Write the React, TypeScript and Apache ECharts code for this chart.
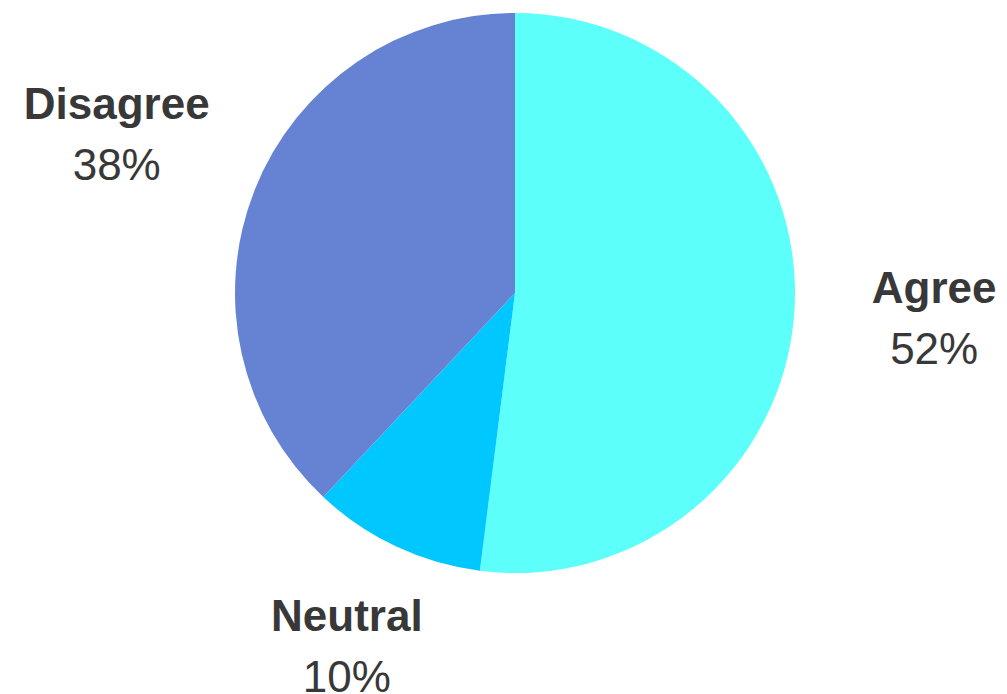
import React, { useEffect, useRef } from "react";
import * as echarts from "echarts";

const categories = ["Agree", "Neutral", "Disagree"];
const values = [52, 10, 38];
const colors = ["#5cfff9", "#00c8fe", "#6683d3"];

export default function App() {
  const ref = useRef<HTMLDivElement>(null);
  useEffect(() => {
    if (!ref.current) return;
    const chart = echarts.init(ref.current, undefined, { renderer: "svg" });
    const data = categories.map((name, i) => ({
      name,
      value: values[i],
      itemStyle: { color: colors[i] },
    }));
    const labelData = categories.map((name, i) => ({ name, value: values[i] }));
    chart.setOption({
      animation: false,
      series: [
        {
          type: "pie",
          center: [515, 293],
          radius: [0, 280],
          startAngle: 90,
          clockwise: true,
          silent: true,
          label: { show: false },
          labelLine: { show: false },
          data,
        },
        {
          type: "pie",
          center: [515, 293],
          radius: [410, 430],
          startAngle: 90,
          clockwise: true,
          silent: true,
          itemStyle: { color: "rgba(0,0,0,0)" },
          labelLine: { show: false },
          label: {
            show: true,
            position: "inside",
            rotate: 0,
            formatter: "{n|{b}}\n{p|{d}%}",
            rich: {
              n: {
                fontFamily: "Liberation Sans",
                fontWeight: "bold",
                fontSize: 44,
                color: "#383838",
                lineHeight: 61,
                align: "center",
              },
              p: {
                fontFamily: "Liberation Sans",
                fontSize: 44,
                color: "#383838",
                lineHeight: 61,
                align: "center",
              },
            },
          },
          labelLayout: (params: any) => {
            if (params.dataIndex === 0) return { dx: -3, dy: -2 };
            if (params.dataIndex === 1) return { dx: 12, dy: -30 };
            if (params.dataIndex === 2) return { dx: -5, dy: -3 };
            return {};
          },
          data: labelData,
        },
      ],
    });
    return () => chart.dispose();
  }, []);
  return (
    <div
      ref={ref}
      style={{ position: "fixed", left: 0, top: 0, width: 1007, height: 694, background: "#fff" }}
    />
  );
}
